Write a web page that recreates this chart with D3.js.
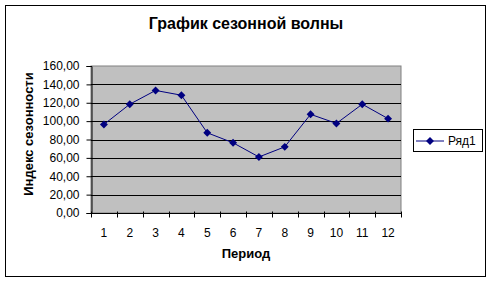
<!DOCTYPE html>
<html>
<head>
<meta charset="utf-8">
<script src="https://cdn.jsdelivr.net/npm/d3@7"></script>
<style>
  body { margin: 0; background: #fff; }
  text { font-family: Arial, "Liberation Sans", sans-serif; }
</style>
</head>
<body>
<div id="chart"></div>
<script>
var periods = [1, 2, 3, 4, 5, 6, 7, 8, 9, 10, 11, 12];
var seasonIndex = [96.4, 118.4, 133.4, 128.2, 87.3, 76.4, 61.0, 72.0, 107.4, 97.5, 118.4, 102.7];
var yTicks = [0, 20, 40, 60, 80, 100, 120, 140, 160];
var seriesName = "Ряд1";

var W = 492, H = 283;
var margin = {top: 66, left: 91, right: 91, bottom: 70};
var width = 401 - margin.left,
    height = 213 - margin.top;

var svg = d3.select("#chart").append("svg")
    .attr("width", W)
    .attr("height", H);

// outer border
svg.append("rect")
    .attr("x", 5.5).attr("y", 5.5)
    .attr("width", 480).attr("height", 271)
    .attr("fill", "white")
    .attr("stroke", "black")
    .attr("stroke-width", 1);

var g = svg.append("g")
    .attr("transform", "translate(" + margin.left + "," + margin.top + ")");

var x = d3.scaleBand().domain(periods).range([0, width]);
var y = d3.scaleLinear().domain([0, 160]).range([height, 0]);

// plot area
g.append("rect")
    .attr("x", 0).attr("y", 0)
    .attr("width", width).attr("height", height)
    .attr("fill", "#c0c0c0")
    .attr("stroke", "#808080")
    .attr("stroke-width", 1);

// gridlines
g.selectAll(".grid").data(yTicks.slice(1, -1)).enter().append("line")
    .attr("x1", 0).attr("x2", width)
    .attr("y1", function(d) { return Math.round(y(d)) + 0.5; })
    .attr("y2", function(d) { return Math.round(y(d)) + 0.5; })
    .attr("stroke", "black");

// y axis
var yAxis = d3.axisLeft(y).tickValues(yTicks).tickSize(5).tickPadding(7)
    .tickFormat(function(d) { return d3.format(".2f")(d).replace(".", ","); });
var ya = g.append("g").attr("transform", "translate(0.5,0)").call(yAxis);
ya.select(".domain").attr("stroke", "black");
ya.selectAll("text").attr("font-size", 12).attr("fill", "black");

// x axis
var xa = g.append("g").attr("transform", "translate(0," + (height + 0.5) + ")");
xa.append("line").attr("x1", 0).attr("x2", width).attr("stroke", "black");
var bounds = d3.range(periods.length + 1);
xa.selectAll(".xt").data(bounds).enter().append("line")
    .attr("x1", function(d) { return Math.round(d * x.step()) + 0.5; })
    .attr("x2", function(d) { return Math.round(d * x.step()) + 0.5; })
    .attr("y1", -2).attr("y2", 4)
    .attr("stroke", "black");
xa.selectAll(".xl").data(periods).enter().append("text")
    .attr("x", function(d) { return x(d) + x.bandwidth() / 2; })
    .attr("y", 23)
    .attr("text-anchor", "middle")
    .attr("font-size", 12)
    .text(function(d) { return d; });

// line
var line = d3.line()
    .x(function(d, i) { return x(periods[i]) + x.bandwidth() / 2; })
    .y(function(d) { return y(d); });
g.append("path").datum(seasonIndex)
    .attr("d", line)
    .attr("fill", "none")
    .attr("stroke", "#000080")
    .attr("stroke-width", 1);

var diamond = d3.symbol().type(d3.symbolDiamond2).size(40);
g.selectAll(".pt").data(seasonIndex).enter().append("path")
    .attr("d", diamond)
    .attr("transform", function(d, i) {
        return "translate(" + (x(periods[i]) + x.bandwidth() / 2) + "," + y(d) + ")";
    })
    .attr("fill", "#000080");

// titles
svg.append("text")
    .attr("x", 246).attr("y", 29)
    .attr("text-anchor", "middle")
    .attr("font-size", 16).attr("font-weight", "bold")
    .text("График сезонной волны");

svg.append("text")
    .attr("x", 246).attr("y", 258)
    .attr("text-anchor", "middle")
    .attr("font-size", 13).attr("font-weight", "bold")
    .text("Период");

svg.append("text")
    .attr("transform", "translate(33,134) rotate(-90)")
    .attr("text-anchor", "middle")
    .attr("font-size", 13).attr("font-weight", "bold")
    .text("Индекс сезонности");

// legend
var lg = svg.append("g").attr("transform", "translate(413,129)");
lg.append("rect")
    .attr("x", 0.5).attr("y", 0.5)
    .attr("width", 69).attr("height", 22)
    .attr("fill", "white").attr("stroke", "black");
lg.append("line")
    .attr("x1", 3).attr("x2", 31)
    .attr("y1", 12).attr("y2", 12)
    .attr("stroke", "#000080");
lg.append("path")
    .attr("d", diamond)
    .attr("transform", "translate(17,12)")
    .attr("fill", "#000080");
lg.append("text")
    .attr("x", 35).attr("y", 16)
    .attr("font-size", 12)
    .text(seriesName);
</script>
</body>
</html>
